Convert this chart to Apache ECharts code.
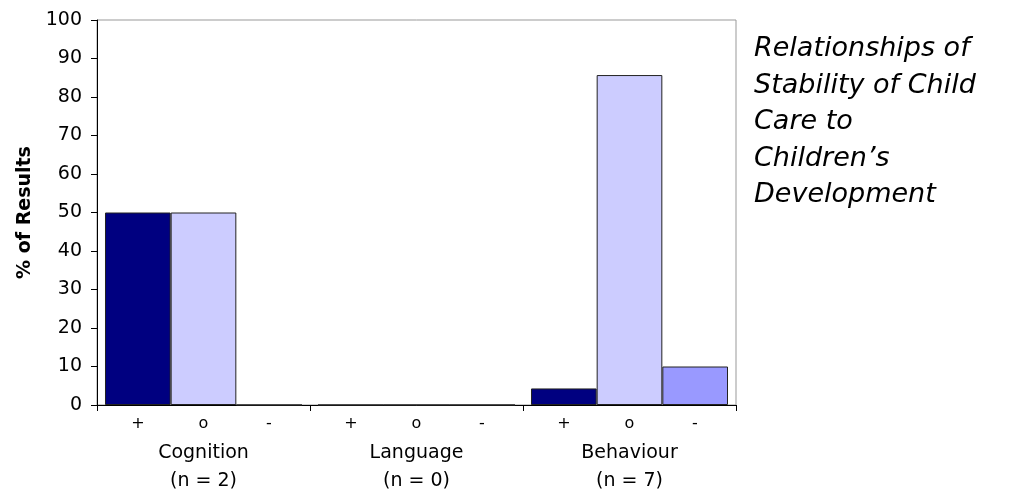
<!DOCTYPE html>
<html>
<head>
<meta charset="utf-8">
<script src="https://cdn.jsdelivr.net/npm/echarts@6/dist/echarts.min.js"></script>
<style>
html,body{margin:0;padding:0;background:#fff;}
#c{width:1011px;height:492px;}
</style>
</head>
<body>
<div id="c"></div>
<script>
const groups = ["Cognition", "Language", "Behaviour"];
const groupN = ["(n = 2)", "(n = 0)", "(n = 7)"];
const subLabels = ["+", "o", "-"];
const plusValues = [50, 0, 4.3];
const zeroValues = [50, 0, 85.7];
const minusValues = [0, 0, 10];
const yTicks = [0, 10, 20, 30, 40, 50, 60, 70, 80, 90, 100];
const titleText = "Relationships of\nStability of Child\nCare to\nChildren\u2019s\nDevelopment";

const chart = echarts.init(document.getElementById('c'));
const font = 'DejaVu Sans, Verdana, sans-serif';
const barBorder = {borderColor: '#222', borderWidth: 1};

chart.setOption({
  animation: false,
  backgroundColor: '#fff',
  title: {
    text: titleText,
    left: 749, top: 26,
    textStyle: {fontFamily: font, fontStyle: 'italic', fontWeight: 'normal', fontSize: 27, lineHeight: 36.5, color: '#000'}
  },
  grid: {left: 97, right: 275, top: 20, bottom: 87, show: true, borderColor: '#999', borderWidth: 1, backgroundColor: 'transparent'},
  xAxis: {
    type: 'category',
    data: groups,
    axisLine: {lineStyle: {color: '#000', width: 1}},
    axisTick: {show: true, length: 6, lineStyle: {color: '#000'}},
    axisLabel: {
      margin: 4,
      interval: 0,
      formatter: function (v, i) {
        return '{s|' + subLabels[0] + '}{s|' + subLabels[1] + '}{s|' + subLabels[2] + '}\n{n|' + v + '}\n{n|' + groupN[i] + '}';
      },
      rich: {
        s: {width: 65.5, align: 'center', fontFamily: font, fontSize: 16, lineHeight: 30, color: '#000'},
        n: {fontFamily: font, fontSize: 19, lineHeight: 28, color: '#000'}
      }
    }
  },
  yAxis: {
    type: 'value',
    min: yTicks[0], max: yTicks[yTicks.length - 1], interval: 10,
    name: '% of Results',
    nameLocation: 'middle',
    nameGap: 62,
    nameTextStyle: {fontFamily: font, fontWeight: 'bold', fontSize: 19, color: '#000'},
    axisLine: {show: true, lineStyle: {color: '#000', width: 1}},
    axisTick: {show: true, length: 6, lineStyle: {color: '#000'}},
    splitLine: {show: false},
    axisLabel: {fontFamily: font, fontSize: 19, color: '#000', margin: 15}
  },
  series: [
    {name: '+', type: 'bar', data: plusValues, barGap: '0%', barCategoryGap: '7.5%', itemStyle: Object.assign({color: '#000080'}, barBorder)},
    {name: 'o', type: 'bar', data: zeroValues, barGap: '0%', barCategoryGap: '7.5%', itemStyle: Object.assign({color: '#CCCCFF'}, barBorder)},
    {name: '-', type: 'bar', data: minusValues, barGap: '0%', barCategoryGap: '7.5%', itemStyle: Object.assign({color: '#9999FF'}, barBorder)}
  ]
});
</script>
</body>
</html>
